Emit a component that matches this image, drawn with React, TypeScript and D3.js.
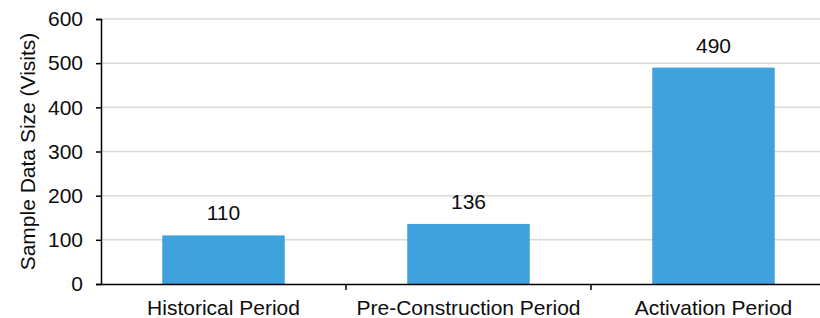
import * as d3 from "d3"
import { useEffect, useRef } from "react"

const categories = ["Historical Period", "Pre-Construction Period", "Activation Period"]
const visits = [110, 136, 490]
const yTicks = [0, 100, 200, 300, 400, 500, 600]

const width = 820
const height = 318
const font = "'Liberation Sans', Arial, sans-serif"
const fontSize = 21

const App = () => {
  const ref = useRef<SVGSVGElement>(null)

  useEffect(() => {
    const svg = d3.select(ref.current)
    svg.selectAll("*").remove()

    const left = 101
    const top = 19
    const bottom = 284

    const x = d3
      .scaleBand<string>()
      .domain(categories)
      .range([left, 836])
      .paddingInner(0.5)
      .paddingOuter(0.25)

    const y = d3.scaleLinear().domain([0, 600]).range([bottom, top])

    // gridlines
    svg
      .append("g")
      .selectAll("line")
      .data(yTicks.filter((d) => d > 0))
      .enter()
      .append("line")
      .attr("x1", left)
      .attr("x2", width)
      .attr("y1", (d) => y(d))
      .attr("y2", (d) => y(d))
      .attr("stroke", "#d9d9d9")
      .attr("stroke-width", 1.5)

    // bars
    svg
      .append("g")
      .selectAll("rect")
      .data(visits)
      .enter()
      .append("rect")
      .attr("x", (_, i) => x(categories[i])!)
      .attr("width", x.bandwidth())
      .attr("y", (d) => y(d))
      .attr("height", (d) => bottom - y(d))
      .attr("fill", "#3fa2dd")

    // value labels
    svg
      .append("g")
      .selectAll("text")
      .data(visits)
      .enter()
      .append("text")
      .attr("x", (_, i) => x(categories[i])! + x.bandwidth() / 2)
      .attr("y", (d) => y(d) - 15)
      .attr("text-anchor", "middle")
      .attr("font-family", font)
      .attr("font-size", fontSize)
      .attr("fill", "#0d0d0d")
      .text((d) => d)

    // y axis
    const yAxis = svg
      .append("g")
      .attr("transform", `translate(${left},0)`)
      .call(d3.axisLeft(y).tickValues(yTicks).tickSize(5).tickPadding(13))
    yAxis.select(".domain").attr("stroke", "#000").attr("stroke-width", 1.5)
    yAxis.selectAll(".tick line").attr("stroke", "#000").attr("stroke-width", 1.5)
    yAxis
      .selectAll(".tick text")
      .attr("font-family", font)
      .attr("font-size", fontSize)
      .attr("fill", "#0d0d0d")

    // x axis
    const xAxis = svg
      .append("g")
      .attr("transform", `translate(0,${bottom})`)
      .call(d3.axisBottom(x).tickSize(0).tickPadding(16))
    xAxis.select(".domain").attr("stroke", "#000").attr("stroke-width", 1.5)
    xAxis
      .selectAll(".tick text")
      .attr("font-family", font)
      .attr("font-size", fontSize)
      .attr("fill", "#0d0d0d")

    // category separator ticks
    svg
      .append("g")
      .selectAll("line")
      .data(categories.slice(1))
      .enter()
      .append("line")
      .attr("x1", (d) => x(d)! - (x.step() * x.paddingInner()) / 2)
      .attr("x2", (d) => x(d)! - (x.step() * x.paddingInner()) / 2)
      .attr("y1", bottom)
      .attr("y2", bottom + 6)
      .attr("stroke", "#000")
      .attr("stroke-width", 1.5)

    // y title
    svg
      .append("text")
      .attr("transform", `translate(35,${(top + bottom) / 2}) rotate(-90)`)
      .attr("text-anchor", "middle")
      .attr("font-family", font)
      .attr("font-size", fontSize)
      .attr("fill", "#0d0d0d")
      .text("Sample Data Size (Visits)")
  }, [])

  return (
    <svg
      ref={ref}
      width={width}
      height={height}
      style={{ position: "absolute", left: 0, top: 0, background: "#fff" }}
    />
  )
}

export default App
